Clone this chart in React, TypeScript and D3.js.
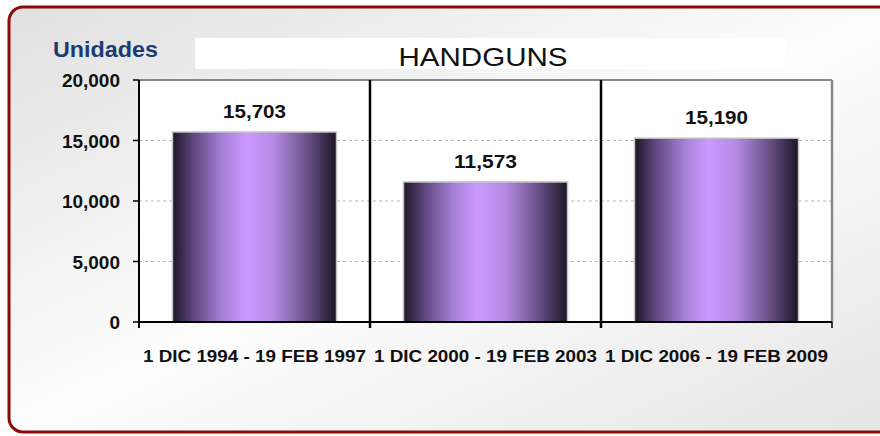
import React from "react";
import { scaleLinear, scaleBand, format } from "d3";

const categories = [
  "1 DIC  1994 - 19 FEB 1997",
  "1 DIC  2000 - 19 FEB 2003",
  "1 DIC  2006 - 19 FEB 2009",
];
const values = [15703, 11573, 15190];
const yTicks = [0, 5000, 10000, 15000, 20000];
const gridTicks = [5000, 10000, 15000];

const W = 880;
const H = 436;
const left = 139;
const right = 832;
const top = 80;
const bottom = 322;

const App: React.FC = () => {
  const x = scaleBand<string>()
    .domain(categories)
    .range([left, right])
    .paddingInner(0.29)
    .paddingOuter(0.145);
  const y = scaleLinear().domain([0, 20000]).range([bottom, top]);
  const fmt = format(",");
  const step = (right - left) / categories.length;

  return (
    <svg
      width={W}
      height={H}
      style={{ position: "absolute", left: 0, top: 0 }}
      fontFamily="Liberation Sans, Arial, sans-serif"
    >
      <defs>
        <linearGradient id="bg" x1="0" y1="0" x2="1" y2="1">
          <stop offset="0" stopColor="#e0e0e0" />
          <stop offset="0.5" stopColor="#fdfdfd" />
          <stop offset="1" stopColor="#e4e4e4" />
        </linearGradient>
        <linearGradient id="bar" x1="0" y1="0" x2="1" y2="0">
          <stop offset="0" stopColor="#1c1526" />
          <stop offset="0.12" stopColor="#5a4478" />
          <stop offset="0.3" stopColor="#a57fd6" />
          <stop offset="0.45" stopColor="#cc99ff" />
          <stop offset="0.62" stopColor="#b48ae4" />
          <stop offset="0.82" stopColor="#6a5288" />
          <stop offset="1" stopColor="#1c1526" />
        </linearGradient>
      </defs>
      <rect x={0} y={0} width={W} height={H} fill="#ffffff" />
      <rect
        x={9}
        y={7}
        width={900}
        height={425}
        rx={14}
        fill="url(#bg)"
        stroke="#8b0a0a"
        strokeWidth={3}
      />
      <text x={53} y={57} fontSize={22} fontWeight="bold" fill="#1a3c72" textLength={105} lengthAdjust="spacingAndGlyphs">
        Unidades
      </text>
      <rect x={195} y={38} width={590} height={31} fill="#ffffff" />
      <text
        x={483}
        y={66}
        fontSize={26}
        textAnchor="middle"
        fill="#111"
        textLength={169}
        lengthAdjust="spacingAndGlyphs"
      >
        HANDGUNS
      </text>

      {/* plot area */}
      <rect x={left} y={top} width={right - left} height={bottom - top} fill="#ffffff" />
      {gridTicks.map((t) => (
        <line
          key={t}
          x1={left}
          x2={right}
          y1={y(t)}
          y2={y(t)}
          stroke="#b8b8b8"
          strokeDasharray="3,3"
        />
      ))}
      <line x1={left} x2={right} y1={top} y2={top} stroke="#888" strokeWidth={2} />
      <line x1={right} x2={right} y1={top} y2={bottom} stroke="#888" strokeWidth={2.5} />

      {categories.map((c, i) => {
        const v = values[i];
        const bx = x(c)!;
        const bw = x.bandwidth();
        return (
          <g key={c}>
            <rect
              x={bx}
              y={y(v)}
              width={bw}
              height={bottom - y(v)}
              fill="url(#bar)"
              stroke="#c4c4c4"
              strokeWidth={1.5}
            />
            <text
              x={bx + bw / 2}
              y={y(v) - 14}
              fontSize={19}
              fontWeight="bold"
              textAnchor="middle"
              fill="#111"
              textLength={63}
              lengthAdjust="spacingAndGlyphs"
            >
              {fmt(v)}
            </text>
            <text
              x={left + step * (i + 0.5)}
              y={362}
              fontSize={17}
              fontWeight="bold"
              textAnchor="middle"
              textLength={223}
              lengthAdjust="spacingAndGlyphs"
              fill="#111"
            >
              {c}
            </text>
          </g>
        );
      })}

      {/* separators between categories */}
      {categories.slice(1).map((c, i) => (
        <line
          key={c}
          x1={left + step * (i + 1)}
          x2={left + step * (i + 1)}
          y1={top}
          y2={bottom + 6}
          stroke="#000"
          strokeWidth={2.5}
        />
      ))}
      <line x1={right} x2={right} y1={bottom} y2={bottom + 6} stroke="#000" strokeWidth={1.5} />

      {/* axes */}
      <line x1={left} x2={right} y1={bottom} y2={bottom} stroke="#000" strokeWidth={2} />
      <line x1={left} x2={left} y1={top} y2={bottom + 6} stroke="#000" strokeWidth={2} />
      {yTicks.map((t) => (
        <g key={t}>
          <line x1={left - 6} x2={left} y1={y(t)} y2={y(t)} stroke="#000" strokeWidth={1.5} />
          <text
            x={120}
            y={y(t) + 7}
            fontSize={19}
            fontWeight="bold"
            textAnchor="end"
            fill="#111"
          >
            {fmt(t)}
          </text>
        </g>
      ))}
    </svg>
  );
};

export default App;
